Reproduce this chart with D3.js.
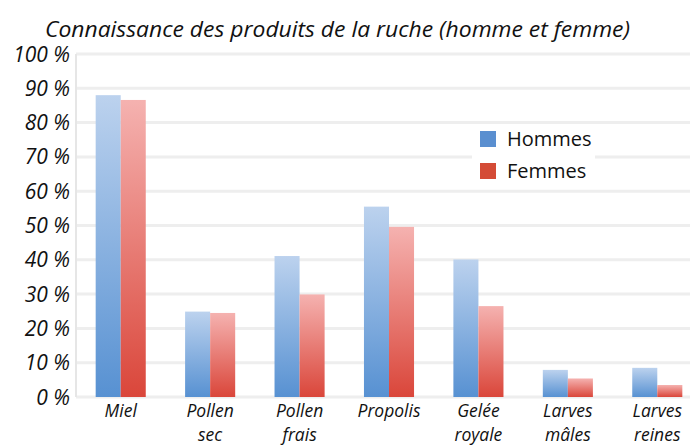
<!DOCTYPE html>
<html>
<head>
<meta charset="utf-8">
<script src="https://cdn.jsdelivr.net/npm/d3@7"></script>
<style>
  html, body { margin: 0; padding: 0; background: #fff; }
  svg { display: block; }
  .lbl { font-family: "Open Sans", sans-serif; font-style: italic; fill: #111; }
  .leg { font-family: "Open Sans", sans-serif; fill: #111; }
</style>
</head>
<body>
<div id="chart"></div>
<script>
const title = "Connaissance des produits de la ruche (homme et femme)";
const categories = ["Miel", "Pollen sec", "Pollen frais", "Propolis", "Gelée royale", "Larves mâles", "Larves reines"];
const seriesNames = ["Hommes", "Femmes"];
const hommes = [0.88, 0.249, 0.411, 0.555, 0.401, 0.079, 0.085];
const femmes = [0.866, 0.245, 0.299, 0.496, 0.265, 0.054, 0.035];
const yTicks = [0, 0.1, 0.2, 0.3, 0.4, 0.5, 0.6, 0.7, 0.8, 0.9, 1];

const width = 690, height = 448;
const margin = { top: 54, right: -12, bottom: 51, left: 76 };

const svg = d3.select("#chart").append("svg")
  .attr("width", width)
  .attr("height", height);

const defs = svg.append("defs");
const gradStops = [
  ["grad-h", "#bcd2ee", "#5791d2"],
  ["grad-f", "#f5b2b0", "#da463a"],
];
gradStops.forEach(([id, top, bottom]) => {
  const g = defs.append("linearGradient").attr("id", id)
    .attr("x1", 0).attr("y1", 0).attr("x2", 0).attr("y2", 1);
  g.append("stop").attr("offset", "0%").attr("stop-color", top);
  g.append("stop").attr("offset", "100%").attr("stop-color", bottom);
});

const x = d3.scaleBand()
  .domain(categories)
  .range([margin.left, width - margin.right])
  .paddingInner(0.44)
  .paddingOuter(0.22);

const xs = d3.scaleBand()
  .domain(seriesNames)
  .range([0, x.bandwidth()]);

const y = d3.scaleLinear()
  .domain([0, 1])
  .range([height - margin.bottom, margin.top]);

// gridlines
svg.append("g")
  .selectAll("line")
  .data(yTicks)
  .join("line")
  .attr("x1", margin.left)
  .attr("x2", width)
  .attr("y1", (d) => y(d))
  .attr("y2", (d) => y(d))
  .attr("stroke", "#eeeeee")
  .attr("stroke-width", 3);

// left axis line
svg.append("line")
  .attr("x1", margin.left).attr("x2", margin.left)
  .attr("y1", y(1)).attr("y2", y(0))
  .attr("stroke", "#e6e6e6")
  .attr("stroke-width", 2);

// y labels
svg.append("g")
  .selectAll("text")
  .data(yTicks)
  .join("text")
  .attr("class", "lbl")
  .attr("x", 70)
  .attr("y", (d) => y(d))
  .attr("dy", "0.36em")
  .attr("text-anchor", "end")
  .attr("font-size", 21)
  .text((d) => `${Math.round(d * 100)} %`);

// bars
const rows = categories.map((c, i) => ({ cat: c, values: [hommes[i], femmes[i]] }));
const groups = svg.append("g")
  .selectAll("g")
  .data(rows)
  .join("g")
  .attr("transform", (d) => `translate(${x(d.cat)},0)`);

groups.selectAll("rect")
  .data((d) => d.values.map((v, j) => ({ key: seriesNames[j], value: v })))
  .join("rect")
  .attr("x", (d) => xs(d.key))
  .attr("y", (d) => y(d.value))
  .attr("width", xs.bandwidth())
  .attr("height", (d) => y(0) - y(d.value))
  .attr("fill", (d) => (d.key === "Hommes" ? "url(#grad-h)" : "url(#grad-f)"));

// x labels, one text per line
const lines = categories.flatMap((c) =>
  c.split(" ").map((word, i) => ({ cat: c, word, i })));

svg.append("g")
  .selectAll("text")
  .data(lines)
  .join("text")
  .attr("class", "lbl")
  .attr("font-size", 17.5)
  .attr("text-anchor", "middle")
  .attr("x", (d) => x(d.cat) + x.bandwidth() / 2)
  .attr("y", (d) => 417 + d.i * 24)
  .text((d) => d.word);

// title
svg.append("text")
  .attr("class", "lbl")
  .attr("x", 45)
  .attr("y", 37)
  .attr("font-size", 21)
  .attr("textLength", 585)
  .attr("lengthAdjust", "spacingAndGlyphs")
  .text(title);

// legend
const legend = svg.append("g");
legend.append("rect")
  .attr("x", 472).attr("y", 127)
  .attr("width", 123).attr("height", 62)
  .attr("fill", "#fff");
const legendColors = ["#5a8fd0", "#d44b36"];
const li = legend.selectAll("g")
  .data(seriesNames)
  .join("g")
  .attr("transform", (d, i) => `translate(480,${131 + i * 32})`);
li.append("rect")
  .attr("width", 16).attr("height", 16)
  .attr("fill", (d, i) => legendColors[i]);
li.append("text")
  .attr("class", "leg")
  .attr("x", 27)
  .attr("y", 8)
  .attr("dy", "0.36em")
  .attr("font-size", 20)
  .text((d) => d);
</script>
</body>
</html>
